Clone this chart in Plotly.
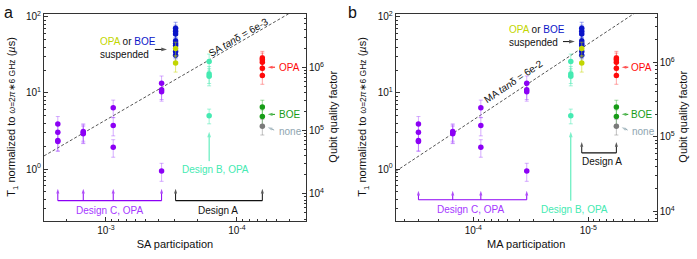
import numpy as np
import plotly.graph_objects as go

# ---------------- data ----------------
# participation ratios (panel a: surface-air "SA", panel b: metal-air "MA")
SA_C = [2.33e-3, 1.49e-3, 8.8e-4, 3.76e-4]   # Design C columns
MA_C = [3.0e-4, 1.51e-4, 8.6e-5, 3.43e-5]
SA_B, MA_B = 1.63e-4, 1.42e-5                 # Design B
SA_S, MA_S = 2.94e-4, 1.14e-5                 # Design A, suspended
SA_A, MA_A = 6.4e-5, 5.7e-6                   # Design A, on substrate

# T1 normalized to 6 GHz (us) and error bars
T1_C = [[3.9, 3.05, 2.38, 2.31], [3.12, 3.0, 2.91], [6.4, 3.73, 1.93], [13.4, 11.0, 10.4, 0.94]]
ERR_C = [[1.0, 0.8, 0.65, 0.6], [0.8, 0.8, 0.75], [1.65, 1.0, 0.5], [3.3, 2.8, 2.6, 0.25]]
T1_B = [25.9, 17.8, 16.6, 5.03]
ERR_B = [6.5, 4.5, 4.2, 1.1]
T1_B_LIMIT = 3.1
T1_S_BOE = [70.9, 64.8, 59.3, 48.1, 44.5, 42.0, 35.1, 31.2]
ERR_S_BOE = [14, 13, 12, 10, 9, 9, 7, 7]
T1_S_OPA = [38.4, 24.8]
ERR_S_OPA = [8, 6]
T1_OPA = [28.7, 27.4, 25.3, 21.1, 17.0]
ERR_OPA = [6.5, 6.0, 5.5, 5.0, 4.0]
T1_BOE = [6.52, 4.9]
ERR_BOE = [1.5, 1.1]
T1_NONE = [3.65]
ERR_NONE = [0.85]

TAN_SA = 6e-3
TAN_MA = 6e-2
OMEGA = 2 * np.pi * 6e9

# axis ranges (log10 units)
XR_A = [-2.527, -4.527]
XR_B = [-3.325, -5.595]
YR = [-0.684, 2.043]
QR_A = [3.57, 6.85]
QR_B = [3.867, 6.653]

# ---------------- style ----------------
FONT = "Liberation Sans"
PURPLE, PURPLE_E = "#8c00f5", "rgba(165,70,255,0.45)"
TEAL, TEAL_E = "#45eab2", "rgba(80,235,180,0.55)"
BLUE, BLUE_E = "#0a14c8", "rgba(40,60,220,0.45)"
YEL, YEL_E = "#c2d600", "rgba(200,215,0,0.5)"
RED, RED_E = "#ff0a0a", "rgba(255,60,60,0.45)"
GREEN, GREEN_E = "#169c16", "rgba(40,170,40,0.45)"
GREY, GREY_E = "#7a7a7a", "rgba(120,120,120,0.45)"
NONE_C = "#8fa6b0"
CTEXT = "#a638ff"
AX = "#333333"

YDOM = [0.148, 0.9587]
fig = go.Figure()


def pts(xs, ys, errs, color, ecolor, xa, ya):
    fig.add_trace(go.Scatter(
        x=xs, y=ys, mode="markers", xaxis=xa, yaxis=ya, showlegend=False,
        marker=dict(color=color, size=5.5),
        error_y=dict(type="data", array=errs, color=ecolor, thickness=1, width=2)))


def arrow(xa, ya, x0, y0, x1, y1, color, size=6):
    """line from (x0,y0) to (x1,y1) with an arrow head at (x1,y1)"""
    fig.add_trace(go.Scatter(
        x=[x0, x1], y=[y0, y1], mode="lines+markers", xaxis=xa, yaxis=ya, showlegend=False,
        hoverinfo="skip", line=dict(color=color, width=1),
        marker=dict(symbol="arrow", size=[0, size], angleref="previous", color=color, line=dict(width=0))))


def hline(xa, ya, x0, x1, y, color):
    fig.add_trace(go.Scatter(x=[x0, x1], y=[y, y], mode="lines", xaxis=xa, yaxis=ya, showlegend=False,
                             hoverinfo="skip", line=dict(color=color, width=1.2)))


def panel(xa, ya, ya2, P_C, P_B, P_S, P_A, tan, xr):
    # dashed loss line T1 = 1/(omega * p * tan)
    p = np.logspace(xr[1], xr[0], 50)
    fig.add_trace(go.Scatter(x=p, y=1e6 / (OMEGA * p * tan), mode="lines", xaxis=xa, yaxis=ya,
                             showlegend=False, hoverinfo="skip",
                             line=dict(color="#555", width=1, dash="3px,2px")))
    xs, ys, es = [], [], []
    for pc, col, ec in zip(P_C, T1_C, ERR_C):
        xs += [pc] * len(col); ys += col; es += ec
    pts(xs, ys, es, PURPLE, PURPLE_E, xa, ya)
    pts([P_B] * len(T1_B), T1_B, ERR_B, TEAL, TEAL_E, xa, ya)
    pts([P_S] * len(T1_S_BOE), T1_S_BOE, ERR_S_BOE, BLUE, BLUE_E, xa, ya)
    pts([P_S] * len(T1_S_OPA), T1_S_OPA, ERR_S_OPA, YEL, YEL_E, xa, ya)
    pts([P_A] * len(T1_OPA), T1_OPA, ERR_OPA, RED, RED_E, xa, ya)
    pts([P_A] * len(T1_BOE), T1_BOE, ERR_BOE, GREEN, GREEN_E, xa, ya)
    pts([P_A] * len(T1_NONE), T1_NONE, ERR_NONE, GREY, GREY_E, xa, ya)
    # empty trace so the quality-factor axis is drawn
    fig.add_trace(go.Scatter(x=[], y=[], xaxis=xa, yaxis=ya2, showlegend=False))


panel("x", "y", "y2", SA_C, SA_B, SA_S, SA_A, TAN_SA, XR_A)
panel("x2", "y3", "y4", MA_C, MA_B, MA_S, MA_A, TAN_MA, XR_B)

L = np.log10
ann = []


def text(xr, yr, x, y, s, color="#111", size=10, xanchor="center", angle=0, align="center"):
    ann.append(dict(xref=xr, yref=yr, x=L(x), y=L(y), text=s, showarrow=False, xanchor=xanchor,
                    yanchor="middle", textangle=angle, align=align,
                    font=dict(family=FONT, size=size, color=color)))


susp = (f"<span style='color:{YEL}'>OPA</span> or <span style='color:{BLUE}'>BOE</span><br>suspended")

# ---- panel a annotations ----
text("x", "y", 1.15e-3, 38.4, susp, xanchor="left", align="left")
arrow("x", "y", 4.23e-4, 37.3, 3.42e-4, 37.3, "#111")
text("x", "y", 9.8e-5, 54, "SA <i>tan</i>δ = 6e-3", angle=-30)
arrow("x", "y", 5.12e-5, 21.8, 5.82e-5, 21.8, RED, 5)
text("x", "y", 4.95e-5, 21.8, "OPA", RED, xanchor="left")
arrow("x", "y", 5.12e-5, 5.23, 5.82e-5, 5.23, GREEN, 5)
text("x", "y", 4.95e-5, 5.23, "BOE", GREEN, xanchor="left")
arrow("x", "y", 5.2e-5, 3.25, 5.82e-5, 3.55, NONE_C, 5)
text("x", "y", 4.95e-5, 3.12, "none", NONE_C, xanchor="left")
arrow("x", "y", SA_B, 1.27, SA_B, T1_B_LIMIT, TEAL)
text("x", "y", 1.47e-4, 1.0, "Design B, OPA", TEAL)
hline("x", "y", SA_C[0], SA_C[-1], 0.384, PURPLE)
for pc in SA_C:
    arrow("x", "y", pc, 0.384, pc, 0.55, PURPLE, 5)
text("x", "y", 9.35e-4, 0.285, "Design C, OPA", CTEXT)
hline("x", "y", SA_S, SA_A, 0.384, "#111")
for pc in [SA_S, SA_A]:
    arrow("x", "y", pc, 0.384, pc, 0.55, "#111", 5)
text("x", "y", 1.4e-4, 0.285, "Design A")

# ---- panel b annotations ----
text("x2", "y3", 5.13e-5, 55.8, susp, xanchor="left", align="left")
arrow("x2", "y3", 1.66e-5, 47.3, 1.31e-5, 47.3, "#111")
text("x2", "y3", 4.5e-5, 14.3, "MA <i>tan</i>δ = 6e-2", angle=-34)
arrow("x2", "y3", 4.49e-6, 21.8, 5.13e-6, 21.8, RED, 5)
text("x2", "y3", 4.4e-6, 21.8, "OPA", RED, xanchor="left")
arrow("x2", "y3", 4.49e-6, 5.23, 5.13e-6, 5.23, GREEN, 5)
text("x2", "y3", 4.4e-6, 5.23, "BOE", GREEN, xanchor="left")
arrow("x2", "y3", 4.55e-6, 3.25, 5.13e-6, 3.55, NONE_C, 5)
text("x2", "y3", 4.35e-6, 3.12, "none", NONE_C, xanchor="left")
arrow("x2", "y3", MA_B, 0.384, MA_B, T1_B_LIMIT, TEAL)
text("x2", "y3", 1.31e-5, 0.294, "Design B, OPA", TEAL)
hline("x2", "y3", MA_C[0], MA_C[-1], 0.395, PURPLE)
for pc in MA_C:
    arrow("x2", "y3", pc, 0.395, pc, 0.518, PURPLE, 5)
text("x2", "y3", 1.05e-4, 0.294, "Design C, OPA", CTEXT)
hline("x2", "y3", MA_S, MA_A, 1.63, "#111")
for pc in [MA_S, MA_A]:
    arrow("x2", "y3", pc, 1.63, pc, 2.26, "#111", 5)
text("x2", "y3", 7.66e-6, 1.27, "Design A")

# panel letters and y-axis titles (paper coordinates)
YTITLE = "T<sub>1</sub> normalized to <span style='font-size:8.5px'><i>ω</i>=2<i>π</i>∗6 GHz</span> (<i>µ</i>s)"
for px, letter in [(2, "a"), (346, "b")]:
    ann.append(dict(xref="paper", yref="paper", x=px / 697, y=1 - 10 / 259, text=letter, showarrow=False,
                    xanchor="left", yanchor="middle", font=dict(family=FONT, size=16, color="#111")))
for px, s in [(12, YTITLE), (363, YTITLE), (333, "Qubit quality factor"), (683, "Qubit quality factor")]:
    ann.append(dict(xref="paper", yref="paper", x=px / 697, y=1 - 115 / 259, text=s, showarrow=False,
                    textangle=-90, xanchor="center", yanchor="middle",
                    font=dict(family=FONT, size=11, color="#111")))
fig.update_layout(annotations=ann)

tickfont = dict(family=FONT, size=10, color="#111")
titlefont = dict(family=FONT, size=11, color="#111")


def minor_vals(rng):
    lo, hi = min(rng), max(rng)
    return [m * 10.0 ** k for k in range(int(np.floor(lo)), int(np.ceil(hi)) + 1)
            for m in range(2, 10) if lo <= np.log10(m * 10.0 ** k) <= hi]


def pw(v):
    return f"10<sup>{int(round(np.log10(v)))}</sup>"


def common(vals, rng):
    return dict(type="log", range=rng, tickmode="array", tickvals=vals, ticktext=[pw(v) for v in vals],
                ticks="inside", ticklen=4, tickcolor=AX, showline=True, linecolor=AX,
                showgrid=False, zeroline=False, tickfont=tickfont,
                minor=dict(tickmode="array", tickvals=minor_vals(rng), ticks="inside", ticklen=2,
                           tickcolor=AX))


def xax(dom, rng, vals, title, anchor):
    d = common(vals, rng)
    d.update(domain=dom, mirror=True, anchor=anchor, title=dict(text=title, font=titlefont, standoff=5))
    return d


def yax(anchor, rng):
    d = common([1, 10, 100], rng)
    d.update(domain=YDOM, anchor=anchor)
    return d


def qax(anchor, over, rng):
    d = common([1e4, 1e5, 1e6], rng)
    d.update(domain=YDOM, anchor=anchor, overlaying=over, side="right")
    return d


fig.update_layout(
    width=697, height=259, margin=dict(l=0, r=0, t=0, b=0),
    paper_bgcolor="white", plot_bgcolor="white", font=dict(family=FONT, size=11, color="#111"),
    xaxis=xax([0.0631, 0.439], XR_A, [1e-3, 1e-4], "SA participation", "y"),
    xaxis2=xax([0.5677, 0.9422], XR_B, [1e-4, 1e-5], "MA participation", "y3"),
    yaxis=yax("x", YR),
    yaxis2=qax("x", "y", QR_A),
    yaxis3=yax("x2", YR),
    yaxis4=qax("x2", "y3", QR_B),
)

fig.write_html("out.html", config={"displayModeBar": False},
               post_script="document.body.style.margin='0';")
